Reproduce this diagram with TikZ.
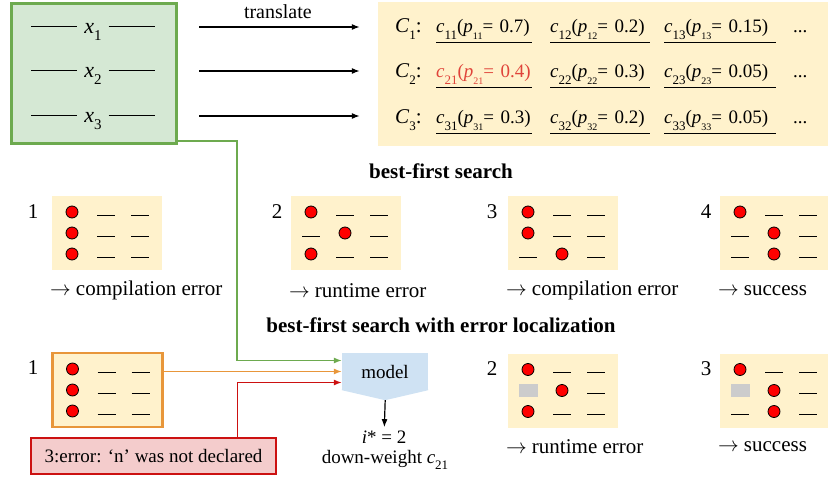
\documentclass[tikz,border=0pt]{standalone}
\usepackage{fontspec}
\setmainfont{Liberation Serif}
\usetikzlibrary{arrows.meta,positioning}

\definecolor{inpfill}{HTML}{D5E8D4}
\definecolor{inpdraw}{HTML}{6DAA4F}
\definecolor{candfill}{HTML}{FFF2CC}
\definecolor{orangedraw}{HTML}{E8963A}
\definecolor{errfill}{HTML}{F4CCCC}
\definecolor{errdraw}{HTML}{CC1111}
\definecolor{modelfill}{HTML}{CFE2F3}
\definecolor{dotred}{HTML}{FF0000}
\definecolor{redtext}{HTML}{E0443A}

\tikzstyle{panel} = [rectangle, fill=candfill, minimum width=110pt, minimum height=74pt, inner sep=0pt]
\tikzstyle{dot} = [circle, draw, fill=dotred, line width=0.8pt, minimum size=12pt, inner sep=0pt]
\tikzstyle{blank} = [line width=1pt]
\tikzstyle{masked} = [rectangle, fill=black!20, minimum width=19pt, minimum height=13pt, inner sep=0pt]
\tikzstyle{entry} = [anchor=base west, inner sep=0pt, text depth=9.5pt, align=left]
\tikzstyle{caption} = [anchor=west, inner sep=0pt, font=\fontsize{21}{24}\selectfont]
\tikzstyle{title} = [font=\fontsize{21}{24}\selectfont\bfseries]
\tikzstyle{line} = [draw, -{Latex[length=8pt,width=6pt]}, line width=1.2pt]

\newcommand{\lo}[2][13]{\raisebox{-0.35em}{\fontsize{#1}{#1}\selectfont #2}}
\newcommand{\slots}[3]{%
  \foreach \cc/\rr in {#2}
    \node [dot] at ([shift={({-69+34*\cc},{-42+21*\rr})}]#1.center) {};
  \foreach \cc/\rr in {#3}
    \draw [blank] ([shift={({-78+34*\cc},{-39+21*\rr})}]#1.center) -- ++(18,0);
}

\begin{document}
\begin{tikzpicture}[x=1pt, y=-1pt, font=\fontsize{19}{22}\selectfont]
\useasboundingbox (0,0) rectangle (828,477);

% source lines and their candidates
\node [rectangle, draw=inpdraw, line width=3pt, fill=inpfill, minimum width=165pt, minimum height=140pt] (inp) at (94,73.5) {};
\node [anchor=base, font=\fontsize{22}{24}\selectfont] (x1) at (93,33) {\rule[6pt]{46pt}{1.1pt}\hspace{7pt}\textit{x}\lo[15]{1}\hspace{7pt}\rule[6pt]{46pt}{1.1pt}};
\node [anchor=base, font=\fontsize{22}{24}\selectfont] (x2) at (93,77) {\rule[6pt]{46pt}{1.1pt}\hspace{7pt}\textit{x}\lo[15]{2}\hspace{7pt}\rule[6pt]{46pt}{1.1pt}};
\node [anchor=base, font=\fontsize{22}{24}\selectfont] (x3) at (93,122) {\rule[6pt]{46pt}{1.1pt}\hspace{7pt}\textit{x}\lo[15]{3}\hspace{7pt}\rule[6pt]{46pt}{1.1pt}};
\node [rectangle, fill=candfill, minimum width=452pt, minimum height=144pt, inner sep=0pt] (cand) at (604,73.5) {};

\coordinate (r1) at (0,27);
\coordinate (r2) at (0,71);
\coordinate (r3) at (0,116);
\path [line, shorten <=21pt, shorten >=18pt] (inp.east |- r1) -- node [above=8pt, inner sep=0pt, font=\fontsize{20}{24}\selectfont] {translate} (cand.west |- r1);
\path [line, shorten <=21pt, shorten >=18pt] (inp.east |- r2) -- (cand.west |- r2);
\path [line, shorten <=21pt, shorten >=18pt] (inp.east |- r3) -- (cand.west |- r3);

\node [anchor=base west, inner sep=0pt, font=\fontsize{21}{24}\selectfont] (C1) at (395,32.5) {\textit{C}\lo{1}:};
\node [anchor=base west, inner sep=0pt, font=\fontsize{21}{24}\selectfont] (C2) at (395,77.5) {\textit{C}\lo{2}:};
\node [anchor=base west, inner sep=0pt, font=\fontsize{21}{24}\selectfont] (C3) at (395,123.5) {\textit{C}\lo{3}:};
\node [entry, text width=96pt] (c11) at (436,32.5) {\textit{c}\lo{11}(\textit{p}\lo[10]{11}= 0.7)};
\node [entry, text width=100pt] (c12) at (550,32.5) {\textit{c}\lo{12}(\textit{p}\lo[10]{12}= 0.2)};
\node [entry, text width=112pt] (c13) at (664,32.5) {\textit{c}\lo{13}(\textit{p}\lo[10]{13}= 0.15)};
\node [entry, text width=96pt, text=redtext] (c21) at (436,77.5) {\textit{c}\lo{21}(\textit{p}\lo[10]{21}= 0.4)};
\node [entry, text width=100pt] (c22) at (550,77.5) {\textit{c}\lo{22}(\textit{p}\lo[10]{22}= 0.3)};
\node [entry, text width=112pt] (c23) at (664,77.5) {\textit{c}\lo{23}(\textit{p}\lo[10]{23}= 0.05)};
\node [entry, text width=96pt] (c31) at (436,123.5) {\textit{c}\lo{31}(\textit{p}\lo[10]{31}= 0.3)};
\node [entry, text width=100pt] (c32) at (550,123.5) {\textit{c}\lo{32}(\textit{p}\lo[10]{32}= 0.2)};
\node [entry, text width=112pt] (c33) at (664,123.5) {\textit{c}\lo{33}(\textit{p}\lo[10]{33}= 0.05)};
\foreach \e in {c11,c12,c13,c21,c22,c23,c31,c32,c33}
  \draw [line width=1pt] (\e.south west) -- (\e.south east);
\node [anchor=base west, inner sep=0pt] (more1) at (793,32.5) {...};
\node [anchor=base west, inner sep=0pt] (more2) at (793,77.5) {...};
\node [anchor=base west, inner sep=0pt] (more3) at (793,123.5) {...};

% best-first search
\node [title] (bfs) at (441,171) {best-first search};
\node [panel] (s1) at (107,233) {};
\node [panel] (s2) at (346,233) {};
\node [panel] (s3) at (563,233) {};
\node [panel] (s4) at (775,233) {};
\slots{s1}{1/1,1/2,1/3}{2/1,3/1,2/2,3/2,2/3,3/3}
\slots{s2}{1/1,2/2,1/3}{2/1,3/1,1/2,3/2,2/3,3/3}
\slots{s3}{1/1,1/2,2/3}{2/1,3/1,2/2,3/2,1/3,3/3}
\slots{s4}{1/1,2/2,2/3}{2/1,3/1,1/2,3/2,1/3,3/3}
\node [font=\fontsize{21}{24}\selectfont] (n1) at (33,212) {1};
\node [font=\fontsize{21}{24}\selectfont] (n2) at (277,212) {2};
\node [font=\fontsize{21}{24}\selectfont] (n3) at (492,212) {3};
\node [font=\fontsize{21}{24}\selectfont] (n4) at (706,212) {4};
\node [caption] (cap1) at ([shift={(-2,20)}]s1.south west) {$\rightarrow$ compilation error};
\node [caption] (cap2) at ([shift={(-2,20)}]s2.south west) {$\rightarrow$ runtime error};
\node [caption] (cap3) at ([shift={(-2,20)}]s3.south west) {$\rightarrow$ compilation error};
\node [caption] (cap4) at ([shift={(-2,20)}]s4.south west) {$\rightarrow$ success};

% best-first search with error localization
\node [title] (bfsel) at (441,325) {best-first search with error localization};
\node [panel, draw=orangedraw, line width=2.5pt] (o1) at (107.5,390) {};
\node [panel] (b2) at (563,390.5) {};
\node [panel] (b3) at (775,390.5) {};
\slots{o1}{1/1,1/2,1/3}{2/1,3/1,2/2,3/2,2/3,3/3}
\slots{b2}{1/1,2/2,1/3}{2/1,3/1,3/2,2/3,3/3}
\slots{b3}{1/1,2/2,2/3}{2/1,3/1,3/2,1/3,3/3}
\node [masked] at ([xshift=-35pt]b2.center) {};
\node [masked] at ([xshift=-35pt]b3.center) {};
\node [font=\fontsize{21}{24}\selectfont] (m1) at (33,368) {1};
\node [font=\fontsize{21}{24}\selectfont] (m2) at (492,369) {2};
\node [font=\fontsize{21}{24}\selectfont] (m3) at (706,369) {3};
\node [caption] (cap5) at ([shift={(-2,19)}]b2.south west) {$\rightarrow$ runtime error};
\node [caption] (cap6) at ([shift={(-2,19)}]b3.south west) {$\rightarrow$ success};

\node [rectangle, draw=errdraw, fill=errfill, line width=2.5pt, minimum width=245pt, minimum height=36pt] (err) at (153.5,456) {3:error: ‘n’ was not declared};
\node [rectangle, fill=modelfill, minimum width=86pt, minimum height=37pt, inner sep=0pt] (model) at (385,371.5) {model};
\fill [modelfill] ([yshift=1pt]model.south west) -- ([yshift=1pt]model.south east) -- (model.south east) -- ++(-43,10) coordinate (mtip) -- (model.south west) -- cycle;
\node (istar) at (384,437) {\textit{i}* = 2};
\node (dw) at (385,460) {down-weight \textit{c}\lo{21}};
\path [line] (mtip) -- (istar);

\draw [line, draw=inpdraw] ([yshift=4pt]inp.south east) -- ++(59,0) |- ([yshift=11pt]model.west);
\draw [line, draw=orangedraw] (o1.east |- model.west) -- (model.west);
\draw [line, draw=errdraw] ([xshift=84pt]err.north) |- ([yshift=-11pt]model.west);
\end{tikzpicture}
\end{document}
